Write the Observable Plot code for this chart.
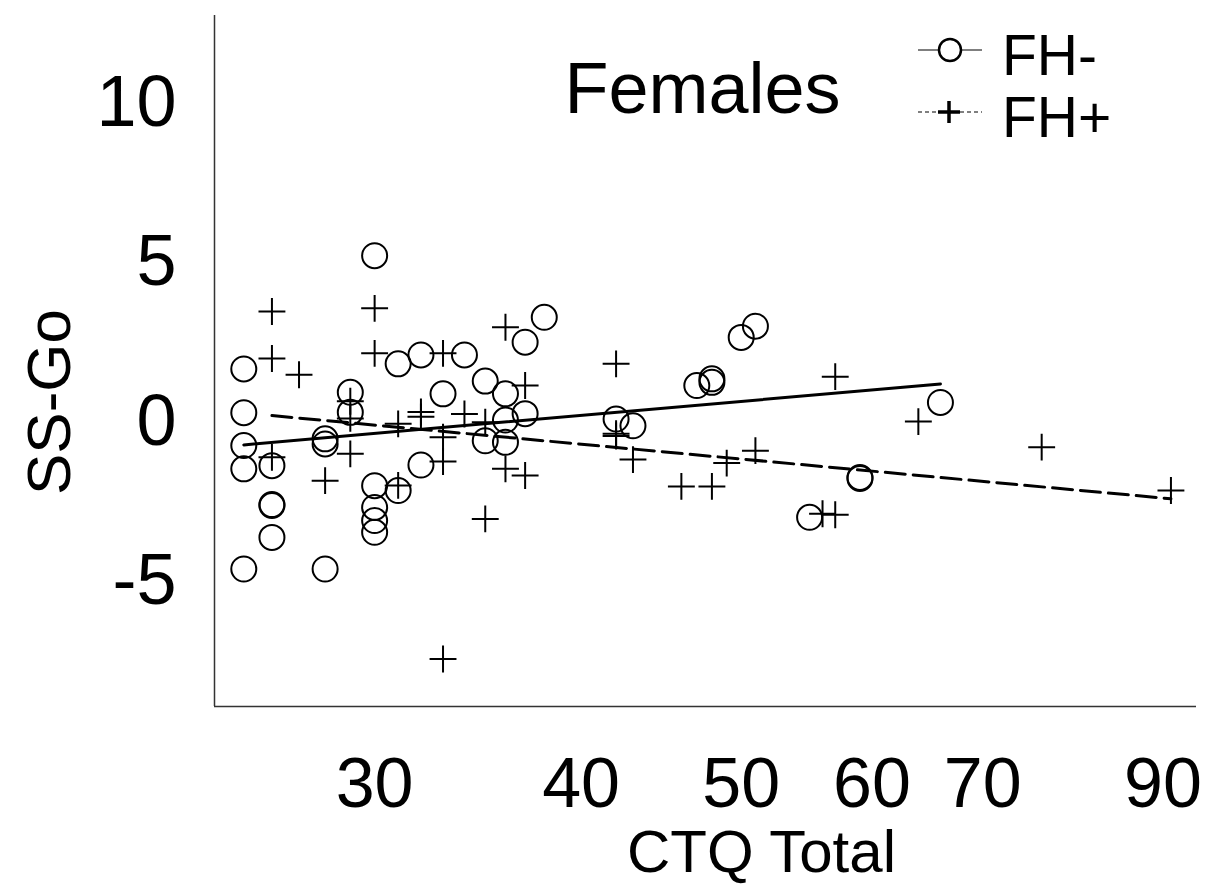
<!DOCTYPE html>
<html><head><meta charset="utf-8">
<script src="https://cdn.jsdelivr.net/npm/d3@7"></script>
<script src="https://cdn.jsdelivr.net/npm/@observablehq/plot@0.6"></script>
<style>
html,body{margin:0;padding:0;background:#fff;}
#wrap{position:relative;width:1212px;height:887px;font-family:"Liberation Sans",Arial,sans-serif;}
#wrap svg{display:block;}
#legend{position:absolute;left:0;top:0;pointer-events:none;}
</style></head><body><div id="wrap"></div>
<script>
// FH- group (open circles)
const fhMinusCTQ  = [25, 25, 25, 25, 25, 26, 26, 26, 26, 28, 28, 28, 29, 29, 30, 30, 30, 30, 30, 31, 31, 32, 32, 33, 34, 35, 35, 36, 36, 36, 37, 37, 38, 42, 43, 47, 48, 48, 50, 51, 55, 59, 59, 66];
const fhMinusSSGo = [1.65, 0.28, -0.75, -1.48, -4.62, -1.38, -2.63, -2.60, -3.63, -0.54, -0.70, -4.62, 0.92, 0.29, 5.2, -2.01, -2.69, -3.10, -3.47, 1.81, -2.16, 2.09, -1.36, 0.87, 2.09, 1.27, -0.6, 0.87, 0.05, -0.65, 2.49, 0.25, 3.27, 0.08, -0.13, 1.13, 1.34, 1.23, 2.64, 2.99, -3.0, -1.78, -1.75, 0.6];
// FH+ group (plus signs)
const fhPlusCTQ  = [26, 26, 26, 27, 28, 29, 29, 29, 30, 30, 31, 31, 32, 32, 33, 33, 33, 33, 34, 35, 35, 36, 36, 37, 37, 42, 42, 42, 43, 46, 48, 49, 51, 56, 57, 57, 64, 76, 91];
const fhPlusSSGo = [3.45, 1.98, -1.12, 1.47, -1.85, 0.64, 0.10, -1.01, 3.55, 2.14, -0.07, -2.0, 0.30, 0.15, 2.14, -0.49, -1.25, -7.44, 0.24, -0.02, -3.05, 2.96, -1.48, 1.13, -1.69, 1.81, -0.38, -0.45, -1.19, -2.03, -2.03, -1.3, -0.91, -2.89, 1.41, -2.92, 0.0, -0.8, -2.16];
// fitted lines (end points)
const fitMinusCTQ = [25, 66];
const fitMinusSSGo = [-0.73, 1.18];
const fitPlusCTQ = [26, 91];
const fitPlusSSGo = [0.19, -2.42];
// axes
const xTicks = [30, 40, 50, 60, 70, 90];
const yTicks = [-5, 0, 5, 10];
const xDomain = [24.0, 94.3];
const yDomain = [-8.93, 12.73];
const legendLabels = ["FH-", "FH+"];
const titleText = "Females";
const xLabel = "CTQ Total";
const yLabel = "SS-Go";

const minus = fhMinusCTQ.map((x, i) => ({x, y: fhMinusSSGo[i]}));
const plus = fhPlusCTQ.map((x, i) => ({x, y: fhPlusSSGo[i]}));
const fitMinus = fitMinusCTQ.map((x, i) => ({x, y: fitMinusSSGo[i]}));
const fitPlus = fitPlusCTQ.map((x, i) => ({x, y: fitPlusSSGo[i]}));

const font = "Liberation Sans, Arial, sans-serif";
const chart = Plot.plot({
  width: 1212, height: 887,
  marginLeft: 214, marginRight: 16, marginTop: 15, marginBottom: 181,
  style: {fontFamily: font, background: "white", color: "black"},
  x: {type: "log", domain: xDomain},
  y: {domain: yDomain},
  marks: [
    Plot.axisX(xTicks, {tickSize: 0, tickPadding: 51, fontSize: 70, label: null, tickFormat: d => String(d)}),
    Plot.axisY(yTicks, {tickSize: 0, tickPadding: 38, fontSize: 72, label: null, tickFormat: d => String(d)}),
    Plot.ruleX([xDomain[0]], {stroke: "#333", strokeWidth: 1.5}),
    Plot.ruleY([yDomain[0]], {stroke: "#333", strokeWidth: 1.5}),
    Plot.line(fitMinus, {x: "x", y: "y", stroke: "black", strokeWidth: 3}),
    Plot.line(fitPlus, {x: "x", y: "y", stroke: "black", strokeWidth: 3, strokeDasharray: "20,8"}),
    Plot.dot(minus, {x: "x", y: "y", r: 12.5, stroke: "black", strokeWidth: 2, fill: "none"}),
    Plot.dot(plus, {x: "x", y: "y", symbol: "plus", r: 8.7, stroke: "black", strokeWidth: 2, fill: "none"}),
    Plot.text([titleText], {frameAnchor: "top-left", lineAnchor: "middle", dx: 488, dy: 74, fontSize: 72, textAnchor: "middle", fill: "black"}),
    Plot.text([xLabel], {frameAnchor: "bottom", lineAnchor: "middle", dx: 56, dy: 146, fontSize: 60, textAnchor: "middle", fill: "black"}),
    Plot.text([yLabel], {frameAnchor: "left", lineAnchor: "middle", dx: -164, dy: 41, fontSize: 62, textAnchor: "middle", rotate: -90, fill: "black"})
  ]
});
const wrap = document.getElementById("wrap");
wrap.appendChild(chart);

// legend overlay
const lg = d3.select(wrap).append("svg").attr("id", "legend").attr("width", 1212).attr("height", 887);
const rows = [{y: 50, dash: null, sym: "circle"}, {y: 112, dash: "4,3", sym: "plus"}];
rows.forEach((r, i) => {
  lg.append("line").attr("x1", 918).attr("x2", 982).attr("y1", r.y).attr("y2", r.y)
    .attr("stroke", "black").attr("stroke-width", 1.2).attr("stroke-dasharray", r.dash);
  if (r.sym === "circle") {
    lg.append("circle").attr("cx", 950).attr("cy", r.y).attr("r", 11).attr("fill", "white").attr("stroke", "black").attr("stroke-width", 2.5);
  } else {
    lg.append("path").attr("d", `M938,${r.y}H960M949,${r.y - 11}V${r.y + 11}`).attr("stroke", "black").attr("stroke-width", 3.5);
  }
  lg.append("text").attr("x", 1002).attr("y", r.y + 5).attr("dy", "0.35em").attr("font-size", 57)
    .attr("font-family", font).attr("fill", "black").text(legendLabels[i]);
});
</script>
</body></html>
